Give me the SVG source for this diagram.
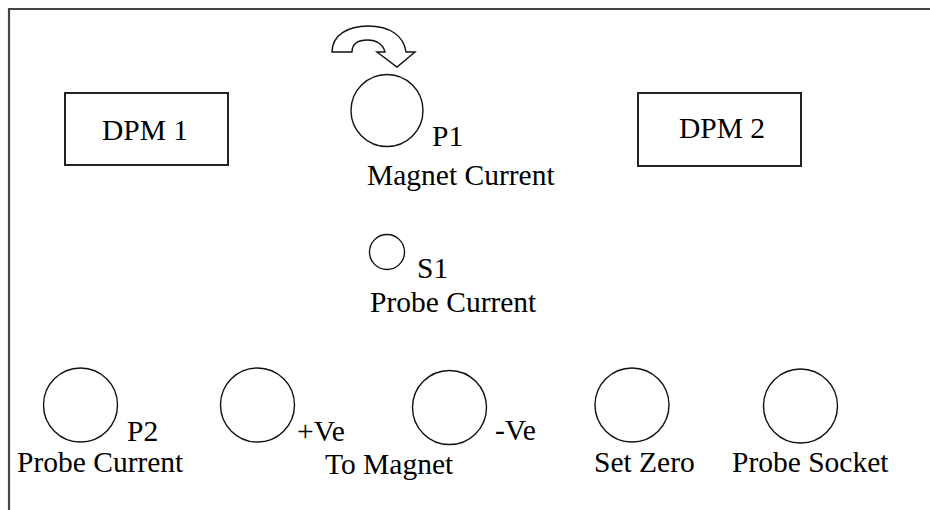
<svg xmlns="http://www.w3.org/2000/svg" width="930" height="510" viewBox="0 0 930 510">
<style>
text{font-family:"Liberation Serif","Times New Roman",serif;font-size:29.5px;fill:#000}
.box{fill:#fff;stroke:#222;stroke-width:2}
.knob{fill:none;stroke:#111;stroke-width:1.4}
</style>
<defs>
<circle id="k" class="knob" r="37"/>
</defs>
<rect width="930" height="510" fill="#fff"/>
<path d="M9,510 V9 H930" fill="none" stroke="#444" stroke-width="2.2"/>
<g id="dpm1"><rect class="box" x="65" y="93" width="163" height="72"/><text x="102" y="140">DPM 1</text></g>
<g id="dpm2"><rect class="box" x="638" y="93" width="163" height="73"/><text x="679" y="138">DPM 2</text></g>
<g id="p1">
<path class="knob" d="M332,52 C332,35 348,26 368,26 C390,26 404,36 406,52 L415,52 L397,67 L377,52 L385,52 C383,44 376,40 368,40 C358,40 352,44 352,52 Z"/>
<circle class="knob" cx="387" cy="110.5" r="36"/>
<text x="432" y="146">P1</text>
<text x="367" y="185">Magnet Current</text>
</g>
<g id="s1">
<circle class="knob" cx="387" cy="252" r="17.5"/>
<text x="417" y="278">S1</text>
<text x="370" y="312">Probe Current</text>
</g>
<g id="p2">
<use href="#k" x="80.5" y="405"/>
<text x="127" y="441">P2</text>
<text x="17" y="472">Probe Current</text>
</g>
<g id="pos">
<use href="#k" x="257.5" y="405"/>
<text x="297" y="441">+Ve</text>
</g>
<g id="neg">
<use href="#k" x="449.5" y="407.5"/>
<text x="495" y="440">-Ve</text>
</g>
<text x="325" y="474">To Magnet</text>
<g id="setzero">
<use href="#k" x="632" y="405"/>
<text x="594" y="472">Set Zero</text>
</g>
<g id="socket">
<use href="#k" x="800.5" y="406"/>
<text x="732" y="472">Probe Socket</text>
</g>
<g id="connectors"/>
</svg>
